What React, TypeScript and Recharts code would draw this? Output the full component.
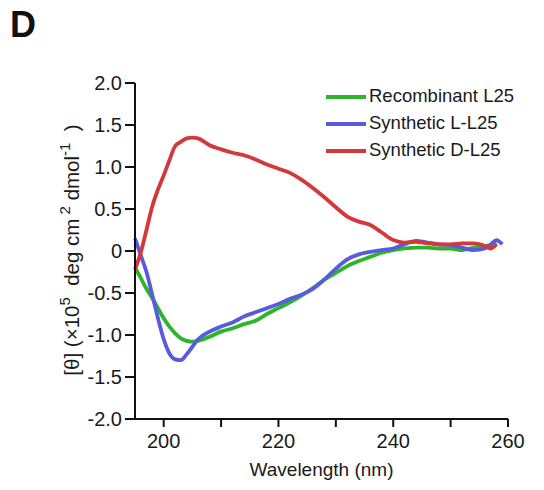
import React from "react";
import { LineChart, Line, XAxis, YAxis, Legend } from "recharts";

const wavelengths = [
  195, 196, 197, 198, 199, 200, 201, 202, 203, 204, 205, 206, 208, 210, 212, 214, 216, 218, 220, 222,
  224, 226, 228, 230, 232, 234, 236, 238, 240, 242, 244, 246, 248, 250, 252, 254, 256, 257, 258, 259,
];

const recombinantL25 = [
  -0.2, -0.32, -0.45, -0.56, -0.68, -0.8, -0.9, -0.98, -1.04, -1.07, -1.08, -1.07, -1.02, -0.96, -0.92, -0.87, -0.83, -0.75, -0.68, -0.61,
  -0.53, -0.44, -0.34, -0.26, -0.18, -0.12, -0.07, -0.02, 0.01, 0.03, 0.04, 0.04, 0.03, 0.03, 0.01, 0.04, 0.06, 0.07, 0.1, null,
];

const syntheticL = [
  0.15, -0.05, -0.25, -0.52, -0.8, -1.05, -1.22, -1.29, -1.3, -1.23, -1.14, -1.05, -0.96, -0.9, -0.85, -0.78, -0.73, -0.68, -0.63, -0.57,
  -0.52, -0.45, -0.34, -0.21, -0.1, -0.04, -0.01, 0.01, 0.03, 0.08, 0.12, 0.1, 0.08, 0.07, 0.04, 0.01, 0.03, 0.08, 0.13, 0.08,
];

const syntheticD = [
  -0.22, -0.02, 0.25, 0.53, 0.73, 0.9, 1.08, 1.25, 1.3, 1.34, 1.35, 1.34, 1.26, 1.21, 1.17, 1.14, 1.09, 1.03, 0.98, 0.93,
  0.85, 0.75, 0.64, 0.52, 0.41, 0.35, 0.31, 0.22, 0.13, 0.1, 0.11, 0.09, 0.08, 0.08, 0.09, 0.09, 0.06, 0.03, 0.08, null,
];

const xTicks = [200, 210, 220, 230, 240, 250, 260];
const yTicks = [-2, -1.5, -1, -0.5, 0, 0.5, 1, 1.5, 2];

const series = [
  { key: "rec", name: "Recombinant L25", color: "#2bb52b" },
  { key: "synL", name: "Synthetic L-L25", color: "#5a5ade" },
  { key: "synD", name: "Synthetic D-L25", color: "#d3393b" },
];

const data = wavelengths.map((wl, i) => ({
  wl,
  rec: recombinantL25[i],
  synL: syntheticL[i],
  synD: syntheticD[i],
}));

const font = "Arial, 'Liberation Sans', sans-serif";

const LegendBox = () => (
  <div style={{ fontFamily: font, fontSize: 18.5, color: "#1a1a1a", lineHeight: 1 }}>
    {series.map((s) => (
      <div key={s.key} style={{ display: "flex", alignItems: "center", height: 27 }}>
        <span style={{ width: 40, height: 4, backgroundColor: s.color, marginRight: 3 }} />
        <span>{s.name}</span>
      </div>
    ))}
  </div>
);

// rotated y title with superscripts
const YLabel = () => (
  <text
    transform="translate(79,250) rotate(-90)"
    textAnchor="middle"
    fontFamily={font}
    fontSize={20.5}
    fill="#1a1a1a"
    style={{ whiteSpace: "pre" }}
  >
    [θ] (×10<tspan dy={-9} fontSize={15}>5</tspan>
    <tspan dy={9}>  deg cm</tspan>
    <tspan dy={-9} fontSize={15}> 2</tspan>
    <tspan dy={9}> dmol</tspan>
    <tspan dy={-9} fontSize={15}>-1</tspan>
    <tspan dy={9}>  )</tspan>
  </text>
);

export default function App() {
  return (
    <div style={{ position: "absolute", left: 0, top: 0, width: 544, height: 490, background: "#fff" }}>
      <svg style={{ position: "absolute", left: 0, top: 0 }} width={60} height={50}>
        <text x={10} y={37} fontFamily={font} fontWeight="bold" fontSize={36} fill="#111">
          D
        </text>
      </svg>
      <LineChart width={544} height={490} data={data} margin={{ top: 83, right: 36, bottom: 6, left: 0 }}>
        <XAxis
          dataKey="wl"
          type="number"
          domain={[195, 260]}
          ticks={xTicks}
          tickFormatter={(v: number) => (v % 20 === 0 ? String(v) : "")}
          height={65}
          tickSize={8}
          tickMargin={7}
          stroke="#111"
          strokeWidth={2}
          tick={{ fill: "#1a1a1a", fontSize: 20, fontFamily: font }}
          label={{ value: "Wavelength (nm)", position: "insideBottom", offset: 8, fill: "#1a1a1a", fontSize: 19, fontFamily: font }}
        />
        <YAxis
          type="number"
          domain={[-2, 2]}
          ticks={yTicks}
          tickFormatter={(v: number) => (v === 0 ? "0" : v.toFixed(1))}
          width={135}
          tickSize={10}
          tickMargin={3}
          stroke="#111"
          strokeWidth={2}
          tick={{ fill: "#1a1a1a", fontSize: 20, fontFamily: font }}
          label={{ content: () => <YLabel /> }}
        />
        <Legend
          layout="vertical"
          verticalAlign="middle"
          align="center"
          wrapperStyle={{ top: 83, left: 326, width: 215 }}
          content={() => <LegendBox />}
        />
        {series.map((s) => (
          <Line
            key={s.key}
            dataKey={s.key}
            name={s.name}
            stroke={s.color}
            strokeWidth={3.8}
            dot={false}
            type="monotone"
            isAnimationActive={false}
          />
        ))}
      </LineChart>
    </div>
  );
}
